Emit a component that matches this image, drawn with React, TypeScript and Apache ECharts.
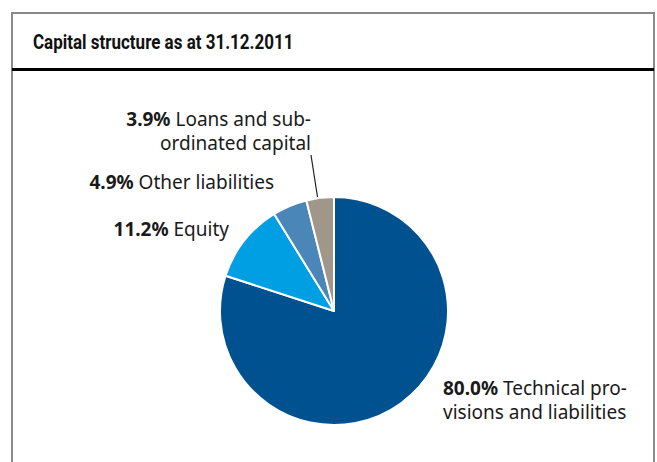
import React, { useEffect, useRef } from "react";
import * as echarts from "echarts";

const title = "Capital structure as at 31.12.2011";
const categories = [
  "Technical pro-\nvisions and liabilities",
  "Equity",
  "Other liabilities",
  "Loans and sub-\nordinated capital",
];
const values = [80.0, 11.2, 4.9, 3.9];
const colors = ["#00518F", "#009FE3", "#4A86B8", "#A0968A"];

// label layout (positions only)
const labelPos = [
  { x: 443, y: 400, align: "left", lh: 24 },
  { x: 229, y: 229, align: "right", lh: 24 },
  { x: 274, y: 182, align: "right", lh: 24 },
  { x: 311, y: 131, align: "right", lh: 24 },
];

const FONT = "'Noto Sans', sans-serif";
const LABEL_SIZE = 19;

export default function App() {
  const ref = useRef<HTMLDivElement>(null);
  useEffect(() => {
    document.body.style.margin = "0";
    const chart = echarts.init(ref.current!, null, { renderer: "svg" });
    const labelTexts = categories.map((c, i) => ({
      type: "text",
      x: labelPos[i].x,
      y: labelPos[i].y,
      style: {
        text: `{b|${values[i].toFixed(1)}%} ${c}`,
        align: labelPos[i].align,
        verticalAlign: "middle",
        fill: "#1a1a1a",
        font: `${LABEL_SIZE}px ${FONT}`,
        lineHeight: labelPos[i].lh,
        rich: {
          b: {
            fontWeight: "bold",
            fontSize: LABEL_SIZE,
            fontFamily: FONT,
            fill: "#1a1a1a",
            lineHeight: labelPos[i].lh,
          },
        },
      },
    }));
    chart.setOption({
      animation: false,
      graphic: [
        {
          type: "polyline",
          shape: { points: [[12, 462], [12, 13], [654, 13], [654, 462]] },
          style: { stroke: "#8a8a8a", lineWidth: 2, fill: "none" },
        },
        {
          type: "line",
          shape: { x1: 12, y1: 69.5, x2: 654, y2: 69.5 },
          style: { stroke: "#000", lineWidth: 3 },
        },
        {
          type: "text",
          x: 33,
          y: 43,
          scaleX: 0.85,
          style: {
            text: title,
            font: `bold 20px Roboto, sans-serif`,
            fill: "#111",
            verticalAlign: "middle",
          },
        },
        {
          type: "line",
          shape: { x1: 311, y1: 155, x2: 317.5, y2: 197 },
          style: { stroke: "#222", lineWidth: 1.2 },
        },
        ...labelTexts,
      ],
      series: [
        {
          type: "pie",
          center: [334, 311],
          radius: 114,
          startAngle: 90,
          clockwise: true,
          label: { show: false },
          labelLine: { show: false },
          itemStyle: { borderColor: "#fff", borderWidth: 2 },
          emphasis: { disabled: true },
          data: categories.map((c, i) => ({
            name: c,
            value: values[i],
            itemStyle: { color: colors[i] },
          })),
        },
      ],
    });
    return () => chart.dispose();
  }, []);
  return <div ref={ref} style={{ width: 657, height: 462 }} />;
}
